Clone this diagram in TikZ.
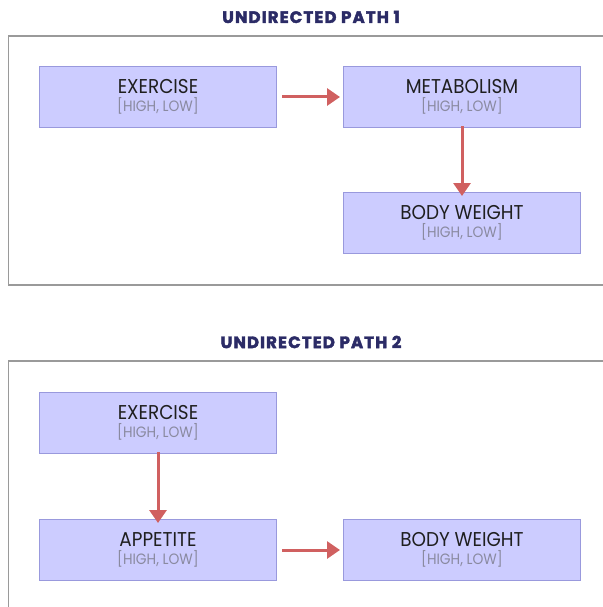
\documentclass[tikz,border=0pt]{standalone}
\usepackage{fontspec}
\setmainfont{Poppins}[FakeStretch=0.92]
\newfontfamily\headfont{Poppins}[UprightFont=* Bold, FakeBold=2.5, LetterSpace=7]
\usetikzlibrary{arrows.meta}
\definecolor{boxfill}{HTML}{CCCCFF}
\definecolor{boxline}{HTML}{9999DD}
\definecolor{arrowred}{HTML}{D06060}
\definecolor{headblue}{HTML}{2B2B66}
\definecolor{framegray}{HTML}{9A9A9A}
\definecolor{rangegray}{HTML}{8A8AA0}
\tikzset{
  varbox/.style={draw=boxline, line width=1pt, fill=boxfill,
    minimum width=237pt, minimum height=61pt, inner sep=0pt, anchor=north west,
    align=center, font=\fontsize{20}{21}\selectfont, text=black!88},
  link/.style={draw=arrowred, line width=3pt,
    -{Triangle[length=13pt, width=17pt]}},
  heading/.style={font=\headfont\fontsize{16.5}{18}\selectfont, text=headblue},
  frame/.style={draw=framegray, line width=1.3pt}
}
\newcommand{\varlabel}[1]{#1\\[-2.5pt]{\fontsize{15}{16}\selectfont\color{rangegray}[HIGH, LOW]}}
\begin{document}
\begin{tikzpicture}[x=1pt, y=-1pt]
  \useasboundingbox (0,0) rectangle (602,607);
  % section 1
  \node[heading] (t1) at (311,17) {UNDIRECTED PATH 1};
  \draw[frame] (610,36) -- (8.5,36) -- (8.5,285) -- (610,285);
  \node[varbox] (ex1) at (39,66) {\varlabel{EXERCISE}};
  \node[varbox] (met) at (343,66) {\varlabel{METABOLISM}};
  \node[varbox] (bw1) at (343,192) {\varlabel{BODY WEIGHT}};
  \draw[link] ([xshift=5pt]ex1.east) -- ([xshift=-3pt]met.west);
  \draw[link] ([yshift=2pt]met.south) -- ([yshift=-4pt]bw1.north);
  % section 2
  \node[heading] (t2) at (311,342) {UNDIRECTED PATH 2};
  \draw[frame] (610,361) -- (8.5,361) -- (8.5,610);
  \node[varbox] (ex2) at (39,392) {\varlabel{EXERCISE}};
  \node[varbox] (app) at (39,519) {\varlabel{APPETITE}};
  \node[varbox] (bw2) at (343,519) {\varlabel{BODY WEIGHT}};
  \draw[link] ([yshift=2pt]ex2.south) -- ([yshift=-4pt]app.north);
  \draw[link] ([xshift=5pt]app.east) -- ([xshift=-3pt]bw2.west);
\end{tikzpicture}
\end{document}
